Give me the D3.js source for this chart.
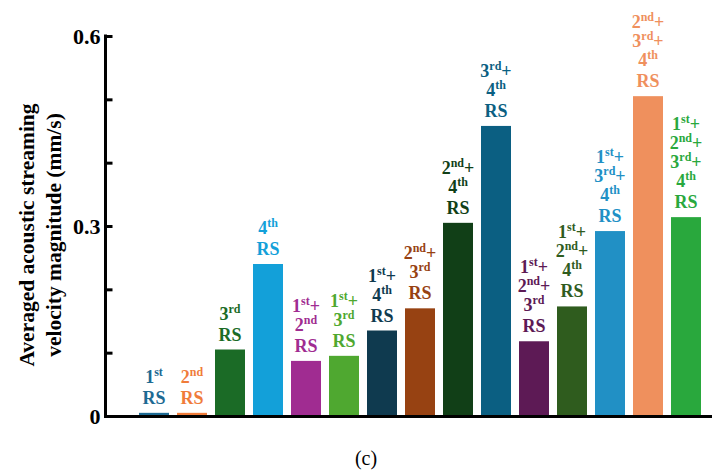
<!DOCTYPE html>
<html>
<head>
<meta charset="utf-8">
<script src="https://cdn.jsdelivr.net/npm/d3@7"></script>
<style>
html,body{margin:0;padding:0;background:#fff;}
svg{display:block;}
svg text{font-family:"Times New Roman","Liberation Serif",serif;}
</style>
</head>
<body>
<svg id="chart" width="727" height="474"></svg>
<script>
// ---- data ----
const categories = ["1st","2nd","3rd","4th","1st+2nd","1st+3rd","1st+4th","2nd+3rd","2nd+4th","3rd+4th",
  "1st+2nd+3rd","1st+2nd+4th","1st+3rd+4th","2nd+3rd+4th","1st+2nd+3rd+4th"];
const values = [0.005,0.005,0.105,0.240,0.087,0.095,0.135,0.170,0.305,0.458,0.118,0.173,0.292,0.505,0.314];
const colors = ["#1d6a93","#f07c3a","#1b6b26","#13a0d9","#a02c91","#4fa830","#0f3a4f","#974212","#113f17",
  "#0b5f82","#5d1a55","#2f5c1e","#2190c5","#ef905d","#29a83d"];
// label lines: [number, ordinal suffix, trailing plus]
const labelLines = [
  [["1","st",""]],
  [["2","nd",""]],
  [["3","rd",""]],
  [["4","th",""]],
  [["1","st","+"],["2","nd",""]],
  [["1","st","+"],["3","rd",""]],
  [["1","st","+"],["4","th",""]],
  [["2","nd","+"],["3","rd",""]],
  [["2","nd","+"],["4","th",""]],
  [["3","rd","+"],["4","th",""]],
  [["1","st","+"],["2","nd","+"],["3","rd",""]],
  [["1","st","+"],["2","nd","+"],["4","th",""]],
  [["1","st","+"],["3","rd","+"],["4","th",""]],
  [["2","nd","+"],["3","rd","+"],["4","th",""]],
  [["1","st","+"],["2","nd","+"],["3","rd","+"],["4","th",""]]
];
const yTicks = [0,0.1,0.2,0.3,0.4,0.5,0.6];
const yTickLabels = {0:"0",0.3:"0.3",0.6:"0.6"};
const yTitle = ["Averaged acoustic streaming","velocity magnitude (mm/s)"];
const caption = "(c)";

// ---- chart ----
const svg = d3.select("#chart");

const x = d3.scaleBand().domain(categories).range([139,701]).paddingInner(8/38).paddingOuter(0);
const y = d3.scaleLinear().domain([0,0.6]).range([416,36]);

// bars
svg.append("g").selectAll("rect").data(categories).join("rect")
  .attr("x", d => x(d))
  .attr("width", x.bandwidth())
  .attr("y", (d,i) => y(values[i]))
  .attr("height", (d,i) => y(0) - y(values[i]))
  .attr("fill", (d,i) => colors[i]);

// labels (one text element per bar, one chunk per line)
const lg = svg.append("g").style("font-weight","bold").attr("text-anchor","middle");
categories.forEach((c,i) => {
  const cx = x(c) + x.bandwidth()/2;
  const rsBase = y(values[i]) - 9;
  const lines = labelLines[i];
  const t = lg.append("text").style("font-size","18px").attr("fill", colors[i]);
  let base = rsBase - 21 - 19*(lines.length-1);
  lines.forEach(([n, suf, plus]) => {
    t.append("tspan").attr("x", cx).attr("y", base).text(n);
    t.append("tspan").style("font-size","12px").attr("dy", -7).text(suf);
    if (plus) t.append("tspan").attr("dy", 7).text(plus);
    base += 19;
  });
  t.append("tspan").attr("x", cx).attr("y", rsBase).text("RS");
});

// y axis
const yAxis = d3.axisLeft(y).tickValues(yTicks).tickSizeInner(-7).tickSizeOuter(0).tickPadding(5)
  .tickFormat(d => yTickLabels[d] !== undefined ? yTickLabels[d] : "");
const ya = svg.append("g").attr("transform","translate(105.5,0)").call(yAxis);
ya.attr("font-family", null);
ya.select(".domain").attr("stroke","#000").attr("stroke-width",3).attr("d","M0,34.5V418");
ya.selectAll(".tick line").attr("stroke","#000").attr("stroke-width",3);
ya.selectAll(".tick text").style("font-weight","bold").style("font-size","22px").attr("fill","#000");

// x axis line
svg.append("line").attr("x1",104).attr("x2",712).attr("y1",416.5).attr("y2",416.5)
  .attr("stroke","#000").attr("stroke-width",3);

// y title
const yt = svg.append("text").attr("transform","translate(0,235) rotate(-90)")
  .attr("text-anchor","middle").style("font-weight","bold").style("font-size","21.5px").attr("fill","#000");
yt.append("tspan").attr("x",0).attr("y",34).text(yTitle[0]);
yt.append("tspan").attr("x",0).attr("y",61).text(yTitle[1]);

// caption
svg.append("text").attr("x",366).attr("y",465).attr("text-anchor","middle")
  .style("font-size","20px").attr("fill","#000").text(caption);
</script>
</body>
</html>
